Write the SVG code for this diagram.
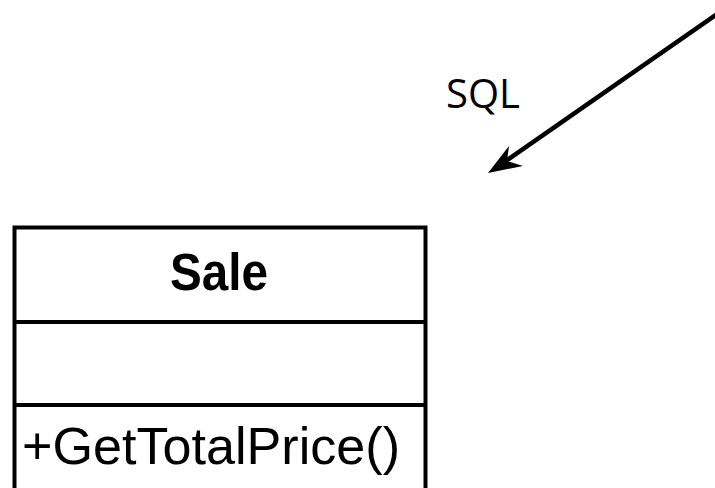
<svg xmlns="http://www.w3.org/2000/svg" width="715" height="488" viewBox="0 0 715 488">
<style>
.box{fill:#fff;stroke:#000;stroke-width:4}
.div{stroke:#000;stroke-width:4}
.t{font-family:"Liberation Sans",Arial,sans-serif;fill:#000}
</style>
<rect width="715" height="488" fill="#fff"/>
<g id="connectors">
<line x1="717" y1="14" x2="500" y2="165" stroke="#000" stroke-width="4.5"/>
<path d="M488,173 L509,146 L507,161 L523,166 Z" fill="#000"/>
<text x="446" y="108" font-family="'Open Sans',sans-serif" font-size="40" fill="#000">SQL</text>
</g>
<g id="sale">
<rect class="box" x="14.5" y="227.5" width="411" height="270"/>
<line class="div" x1="14.5" y1="322" x2="425.5" y2="322"/>
<line class="div" x1="14.5" y1="405" x2="425.5" y2="405"/>
<text class="t" x="219" y="290" font-size="51" font-weight="bold" text-anchor="middle" textLength="98" lengthAdjust="spacingAndGlyphs">Sale</text>
<text class="t" x="22" y="464" font-size="52" textLength="378" lengthAdjust="spacingAndGlyphs">+GetTotalPrice()</text>
</g>
</svg>
